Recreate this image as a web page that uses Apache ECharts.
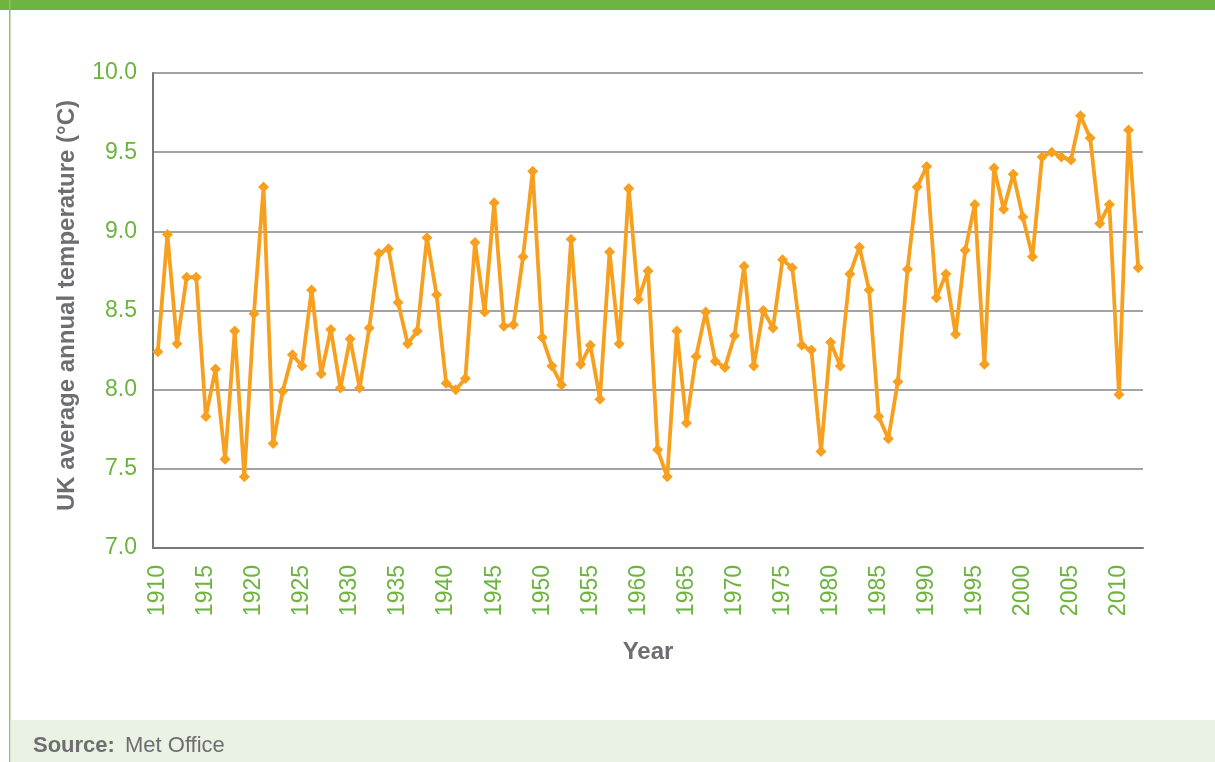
<!DOCTYPE html>
<html>
<head>
<meta charset="utf-8">
<script src="https://cdn.jsdelivr.net/npm/echarts@6/dist/echarts.min.js"></script>
<style>
html,body{margin:0;padding:0;background:#fff;}
#chart{width:1215px;height:762px;}
</style>
</head>
<body>
<div id="chart"></div>
<script>
var years = [];
for (var y = 1910; y <= 2012; y++) years.push(String(y));

var temps = [
  8.24, 8.98, 8.29, 8.71, 8.71, 7.83, 8.13, 7.56, 8.37, 7.45,
  8.48, 9.28, 7.66, 7.99, 8.22, 8.15, 8.63, 8.10, 8.38, 8.01,
  8.32, 8.01, 8.39, 8.86, 8.89, 8.55, 8.29, 8.37, 8.96, 8.60,
  8.04, 8.00, 8.07, 8.93, 8.49, 9.18, 8.40, 8.41, 8.84, 9.38,
  8.33, 8.15, 8.03, 8.95, 8.16, 8.28, 7.94, 8.87, 8.29, 9.27,
  8.57, 8.75, 7.62, 7.45, 8.37, 7.79, 8.21, 8.49, 8.18, 8.14,
  8.34, 8.78, 8.15, 8.50, 8.39, 8.82, 8.77, 8.28, 8.25, 7.61,
  8.30, 8.15, 8.73, 8.90, 8.63, 7.83, 7.69, 8.05, 8.76, 9.28,
  9.41, 8.58, 8.73, 8.35, 8.88, 9.17, 8.16, 9.40, 9.14, 9.36,
  9.09, 8.84, 9.47, 9.50, 9.47, 9.45, 9.73, 9.59, 9.05, 9.17,
  7.97, 9.64, 8.77
];

var yTicks = [7.0, 7.5, 8.0, 8.5, 9.0, 9.5, 10.0];

var chart = echarts.init(document.getElementById('chart'));
var green = '#6cb33f';
var gray = '#6d6e71';
var ff = 'Liberation Sans, Arial, sans-serif';
chart.setOption({
  animation: false,
  backgroundColor: '#ffffff',
  textStyle: { fontFamily: ff },
  grid: { left: 153, right: 72, top: 73, bottom: 214 },
  xAxis: {
    type: 'category',
    data: years,
    boundaryGap: true,
    name: 'Year',
    nameLocation: 'middle',
    nameGap: 92,
    nameTextStyle: { color: gray, fontSize: 24, fontWeight: 'bold' },
    axisLine: { lineStyle: { color: '#77787b', width: 2 } },
    axisTick: { show: false },
    axisLabel: {
      interval: 4,
      rotate: 90,
      margin: 17,
      color: green,
      fontSize: 23
    }
  },
  yAxis: {
    type: 'value',
    min: yTicks[0],
    max: yTicks[yTicks.length - 1],
    interval: 0.5,
    name: 'UK average annual temperature (°C)',
    nameLocation: 'middle',
    nameGap: 74,
    nameTextStyle: { color: gray, fontSize: 24, fontWeight: 'bold', padding: [0, 0, 0, 10] },
    axisLine: { show: true, lineStyle: { color: '#77787b', width: 2 } },
    axisTick: { show: false },
    splitLine: { lineStyle: { color: '#858588', width: 1.6 } },
    axisLabel: {
      margin: 16,
      color: green,
      fontSize: 23,
      formatter: function (v) { return v.toFixed(1); }
    }
  },
  series: [{
    type: 'line',
    data: temps,
    symbol: 'diamond',
    symbolSize: 11,
    showAllSymbol: true,
    lineStyle: { color: '#f7a01f', width: 3.8 },
    itemStyle: { color: '#f7a01f' }
  }],
  graphic: [
    { type: 'rect', left: 0, top: 0, shape: { width: 1215, height: 10 }, style: { fill: '#6cb33f' } },
    { type: 'rect', left: 9, top: 0, shape: { width: 1.5, height: 762 }, style: { fill: '#8cc46a' } },
    { type: 'rect', left: 10.5, top: 720, shape: { width: 1205, height: 42 }, style: { fill: '#eaf2e3' } },
    { type: 'text', left: 33, top: 735, style: { text: 'Source:', fill: gray, font: 'bold 22px ' + ff } },
    { type: 'text', left: 125, top: 735, style: { text: 'Met Office', fill: gray, font: '22px ' + ff } }
  ]
});
</script>
</body>
</html>
